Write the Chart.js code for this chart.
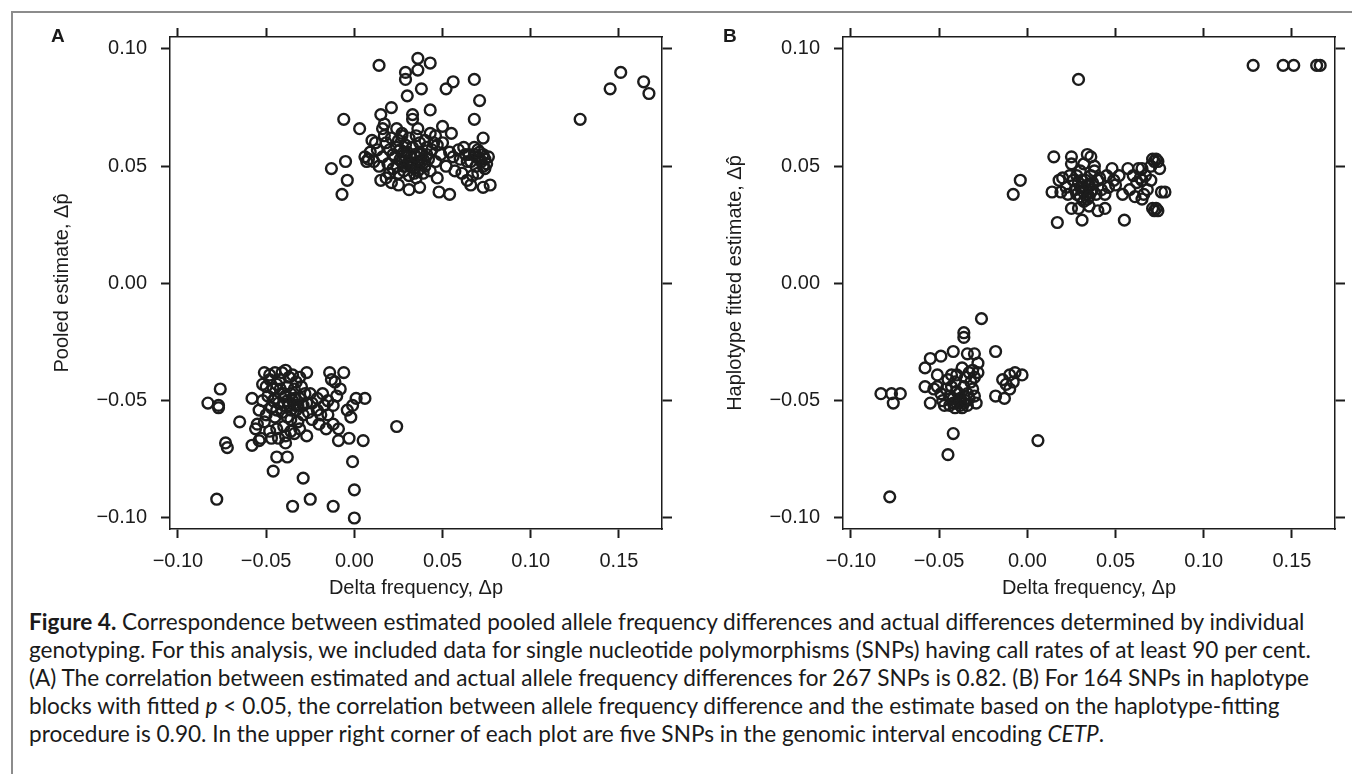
<!DOCTYPE html>
<html>
<head>
<meta charset="utf-8">
<script src="https://cdn.jsdelivr.net/npm/chart.js@4/dist/chart.umd.min.js"></script>
<style>
  html, body { margin: 0; padding: 0; background: #fff; overflow: hidden; }
  body { width: 1352px; height: 774px; position: relative; }
  #frame { position: absolute; left: 11px; top: 11px; width: 1400px; height: 800px;
           border-top: 2px solid #8c8c8c; border-left: 2px solid #8c8c8c; }
  .panel { position: absolute; top: 0; width: 678px; height: 600px; }
  #panelA { left: 0; }
  #panelB { left: 673px; }
  .tag { position: absolute; top: 25px; font: bold 19px "Liberation Sans", Arial, sans-serif; color: #1a1a1a; }
  #caption { position: absolute; left: 29px; top: 608px; font: 22.6px Lato, sans-serif; line-height: 28px;
             color: #1a1a1a; white-space: nowrap; }
  #caption b { font-weight: bold; }
</style>
</head>
<body>
<div id="frame"></div>
<canvas id="panelA" class="panel" width="678" height="600"></canvas>
<canvas id="panelB" class="panel" width="678" height="600"></canvas>
<div class="tag" style="left:51px">A</div>
<div class="tag" style="left:723px">B</div>
<div id="caption">
<b>Figure 4.</b> Correspondence between estimated pooled allele frequency differences and actual differences determined by individual<br>
genotyping. For this analysis, we included data for single nucleotide polymorphisms (SNPs) having call rates of at least 90 per cent.<br>
(A) The correlation between estimated and actual allele frequency differences for 267 SNPs is 0.82. (B) For 164 SNPs in haplotype<br>
blocks with fitted <i>p</i> &lt; 0.05, the correlation between allele frequency difference and the estimate based on the haplotype-fitting<br>
procedure is 0.90. In the upper right corner of each plot are five SNPs in the genomic interval encoding <i>CETP</i>.
</div>
<script>
// tick values shared by both panels
const xTicks = [-0.10, -0.05, 0.00, 0.05, 0.10, 0.15]
const yTicks = [-0.10, -0.05, 0.00, 0.05, 0.10]
const xRange = [-0.1045, 0.1744]
const yRange = [-0.1047, 0.1051]

// panel A: delta frequency (x) vs pooled estimate (y)
const pooledUpper = [
  [0.014,0.093],[0.029,0.090],[0.029,0.087],[0.036,0.096],[0.043,0.094],[0.036,0.091],[0.030,0.080],[0.038,0.083],
  [0.052,0.083],[0.056,0.086],[0.068,0.087],[0.071,0.078],[-0.006,0.070],[0.003,0.066],[0.015,0.072],[0.021,0.075],
  [0.043,0.074],[0.033,0.072],[0.033,0.070],[0.068,0.070],[0.050,0.067],[0.055,0.064],[0.036,0.066],[0.016,0.066],
  [0.024,0.066],[0.027,0.064],[0.031,0.062],[0.046,0.063],[0.017,0.068],[0.010,0.061],[0.073,0.062],[0.047,0.059],
  [-0.013,0.049],[-0.005,0.052],[-0.004,0.044],[-0.007,0.038],[0.006,0.054],[0.007,0.052],[0.008,0.053],
  [0.015,0.044],[0.021,0.043],[0.025,0.042],[0.031,0.040],[0.037,0.041],[0.048,0.039],[0.054,0.038],[0.066,0.042],
  [0.073,0.041],[0.077,0.042],[0.047,0.045],[0.052,0.050],[0.059,0.057],[0.062,0.058],[0.065,0.055],[0.066,0.052],
  [0.068,0.058],[0.069,0.050],[0.070,0.054],[0.071,0.056],[0.072,0.052],[0.073,0.055],[0.074,0.053],[0.075,0.051],
  [0.076,0.054],[0.074,0.049],[0.070,0.047],[0.067,0.046],[0.064,0.052],[0.063,0.055],[0.060,0.053],
  [0.018,0.060],[0.020,0.057],[0.022,0.055],[0.024,0.058],[0.026,0.053],[0.028,0.056],[0.030,0.051],[0.032,0.054],
  [0.034,0.049],[0.036,0.052],[0.038,0.055],[0.040,0.050],[0.042,0.053],[0.044,0.057],[0.046,0.052],[0.025,0.061],
  [0.029,0.059],[0.033,0.058],[0.037,0.060],[0.041,0.058],[0.019,0.051],[0.022,0.049],[0.025,0.047],[0.028,0.048],
  [0.031,0.046],[0.035,0.045],[0.039,0.047],[0.043,0.048],[0.016,0.054],[0.013,0.057],[0.011,0.052],[0.012,0.060],
  [0.017,0.063],[0.021,0.062],[0.027,0.063],[0.035,0.063],[0.040,0.061],[0.043,0.064],[0.049,0.055],[0.054,0.056],
  [0.056,0.054],[0.030,0.056],[0.032,0.050],[0.034,0.055],[0.027,0.052],[0.023,0.054],[0.038,0.052],[0.041,0.055],
  [0.036,0.048],[0.020,0.047],[0.018,0.045],[0.014,0.050],[0.009,0.056],[0.045,0.060],[0.050,0.060],[0.057,0.048],
  [0.061,0.047],[0.064,0.044],[0.026,0.057],[0.029,0.054],[0.031,0.052],[0.033,0.050],[0.035,0.054],[0.037,0.056],
  [0.039,0.053],[0.028,0.050],[0.024,0.050],[0.034,0.047],[0.071,0.053],[0.073,0.050],[0.068,0.055],[0.070,0.057]
]
const pooledLower = [
  [-0.083,-0.051],[-0.076,-0.045],[-0.077,-0.052],[-0.077,-0.053],[-0.073,-0.068],[-0.072,-0.070],[-0.078,-0.092],
  [-0.065,-0.059],[-0.058,-0.049],[-0.058,-0.069],[-0.054,-0.067],[-0.053,-0.066],[-0.051,-0.059],[-0.055,-0.060],
  [-0.051,-0.038],[-0.052,-0.043],[-0.048,-0.039],[-0.045,-0.038],[-0.041,-0.038],[-0.039,-0.037],[-0.035,-0.039],
  [-0.031,-0.040],[-0.027,-0.038],[-0.046,-0.080],[-0.044,-0.074],[-0.038,-0.074],[-0.039,-0.068],[-0.036,-0.063],
  [-0.034,-0.064],[-0.035,-0.095],[-0.029,-0.083],[-0.025,-0.092],[-0.012,-0.095],[0.000,-0.088],[0.000,-0.100],
  [-0.001,-0.076],[0.005,-0.067],[0.024,-0.061],[0.006,-0.049],[0.001,-0.049],[-0.001,-0.052],[-0.004,-0.054],
  [-0.002,-0.057],[-0.006,-0.038],[-0.014,-0.038],[-0.013,-0.041],[-0.011,-0.042],[-0.009,-0.067],[-0.003,-0.066],
  [-0.009,-0.062],[-0.016,-0.062],[-0.019,-0.056],[-0.017,-0.052],[-0.021,-0.054],[-0.024,-0.051],[-0.027,-0.051],
  [-0.029,-0.052],[-0.027,-0.065],[-0.035,-0.050],[-0.037,-0.052],[-0.033,-0.054],[-0.039,-0.048],[-0.041,-0.055],
  [-0.043,-0.051],[-0.045,-0.057],[-0.047,-0.053],[-0.049,-0.048],[-0.050,-0.056],[-0.031,-0.049],[-0.029,-0.056],
  [-0.032,-0.059],[-0.036,-0.058],[-0.040,-0.061],[-0.044,-0.062],[-0.048,-0.063],[-0.038,-0.044],[-0.042,-0.045],
  [-0.046,-0.045],[-0.034,-0.045],[-0.030,-0.044],[-0.025,-0.047],[-0.021,-0.049],[-0.018,-0.047],[-0.015,-0.050],
  [-0.012,-0.052],[-0.010,-0.048],[-0.008,-0.045],[-0.015,-0.056],[-0.012,-0.060],[-0.036,-0.047],[-0.040,-0.052],
  [-0.034,-0.052],[-0.038,-0.057],[-0.042,-0.041],[-0.044,-0.043],[-0.050,-0.044],[-0.052,-0.050],[-0.054,-0.054],
  [-0.056,-0.062],[-0.047,-0.066],[-0.043,-0.066],[-0.039,-0.065],[-0.031,-0.062],[-0.024,-0.058],[-0.020,-0.060],
  [-0.028,-0.047],[-0.026,-0.055],[-0.033,-0.042],[-0.045,-0.049],[-0.048,-0.041],[-0.037,-0.040],
  [-0.036,-0.054],[-0.038,-0.050],[-0.034,-0.049],[-0.040,-0.047],[-0.032,-0.052],[-0.044,-0.054],[-0.046,-0.050]
]
const pooledCetp = [[0.128,0.070],[0.145,0.083],[0.151,0.090],[0.164,0.086],[0.167,0.081]]

// panel B: delta frequency (x) vs haplotype fitted estimate (y)
const haploUpper = [
  [0.029,0.087],[0.015,0.054],[0.025,0.054],[0.025,0.051],[0.034,0.055],[0.036,0.054],[0.032,0.051],[0.048,0.049],
  [0.057,0.049],[0.065,0.049],[0.071,0.053],[0.073,0.053],[0.075,0.049],[-0.004,0.044],[-0.008,0.038],[0.014,0.039],
  [0.017,0.026],[0.031,0.027],[0.055,0.027],[0.025,0.032],[0.029,0.032],[0.040,0.031],[0.044,0.032],[0.071,0.032],
  [0.073,0.032],[0.074,0.031],[0.072,0.031],[0.076,0.039],[0.078,0.039],[0.061,0.037],[0.065,0.036],[0.054,0.038],
  [0.046,0.041],[0.049,0.044],[0.065,0.044],[0.067,0.046],[0.070,0.044],[0.018,0.044],[0.020,0.045],[0.019,0.039],
  [0.023,0.038],[0.034,0.038],[0.039,0.038],[0.040,0.044],[0.041,0.045],[0.027,0.040],[0.029,0.043],[0.031,0.041],
  [0.033,0.044],[0.035,0.042],[0.037,0.040],[0.030,0.037],[0.032,0.035],[0.034,0.036],[0.036,0.046],[0.038,0.048],
  [0.028,0.046],[0.026,0.044],[0.022,0.041],[0.042,0.040],[0.044,0.038],[0.050,0.042],[0.052,0.046],[0.058,0.040],
  [0.062,0.043],[0.068,0.040],[0.066,0.038],[0.035,0.033],[0.038,0.050],[0.030,0.048],[0.024,0.046],[0.060,0.046],
  [0.063,0.049],[0.070,0.050],[0.045,0.046],[0.030,0.041],[0.032,0.039],[0.034,0.042],[0.036,0.039],[0.031,0.044],
  [0.033,0.040],[0.028,0.038],[0.035,0.037],[0.037,0.043],[0.072,0.052],[0.074,0.052],[0.064,0.045]
]
const haploLower = [
  [-0.083,-0.047],[-0.077,-0.047],[-0.076,-0.051],[-0.072,-0.047],[-0.078,-0.091],[-0.058,-0.036],[-0.055,-0.032],
  [-0.049,-0.031],[-0.042,-0.029],[-0.036,-0.021],[-0.036,-0.023],[-0.026,-0.015],[-0.018,-0.029],[-0.034,-0.030],
  [-0.030,-0.030],[-0.028,-0.034],[-0.028,-0.038],[-0.058,-0.044],[-0.053,-0.045],[-0.051,-0.039],[-0.043,-0.039],
  [-0.040,-0.039],[-0.055,-0.051],[-0.047,-0.052],[-0.042,-0.051],[-0.038,-0.052],[-0.034,-0.052],[-0.029,-0.051],
  [-0.018,-0.048],[-0.013,-0.049],[-0.014,-0.041],[-0.010,-0.039],[-0.007,-0.038],[-0.003,-0.039],[-0.012,-0.043],
  [-0.010,-0.045],[-0.008,-0.042],[-0.042,-0.064],[-0.045,-0.073],[0.006,-0.067],[-0.046,-0.045],[-0.044,-0.048],
  [-0.040,-0.046],[-0.038,-0.049],[-0.036,-0.044],[-0.034,-0.047],[-0.032,-0.042],[-0.031,-0.045],[-0.033,-0.038],
  [-0.037,-0.036],[-0.041,-0.042],[-0.045,-0.041],[-0.049,-0.047],[-0.051,-0.044],[-0.039,-0.050],[-0.036,-0.051],
  [-0.041,-0.053],[-0.044,-0.052],[-0.030,-0.048],[-0.035,-0.040],[-0.038,-0.050],[-0.036,-0.048],[-0.040,-0.051],
  [-0.037,-0.053],[-0.039,-0.047],[-0.035,-0.050],[-0.033,-0.049],[-0.042,-0.049],[-0.043,-0.044],[-0.030,-0.040],
  [-0.031,-0.037],[-0.048,-0.050]
]
const haploCetp = [[0.128,0.093],[0.145,0.093],[0.151,0.093],[0.164,0.093],[0.166,0.093]]

const ink = '#1c1c1c'
const axisFont = { family: '"Liberation Sans", Arial, sans-serif', size: 20 }

function fmtTick(v) {
  return (v < -1e-9 ? '\u2212' : '') + Math.abs(v).toFixed(2)
}

function toPoints(list) {
  return list.map((p) => ({ x: p[0], y: p[1] }))
}

function makePanel(canvasId, yTitle, groups) {
  let sideGrid = { drawOnChartArea: false, tickLength: 9, tickWidth: 2, tickColor: ink }
  let sideBorder = { display: true, color: ink, width: 1.5 }
  new Chart(document.getElementById(canvasId), {
    type: 'scatter',
    data: {
      datasets: groups.map((g) => ({
        data: toPoints(g),
        pointStyle: 'circle',
        pointRadius: 5.4,
        pointHoverRadius: 5.4,
        borderWidth: 2.4,
        borderColor: ink,
        backgroundColor: 'rgba(0,0,0,0)',
      })),
    },
    options: {
      responsive: false,
      animation: false,
      layout: { padding: { left: 40, top: 0, right: 0, bottom: 0 } },
      plugins: { legend: { display: false }, tooltip: { enabled: false } },
      scales: {
        x: {
          type: 'linear', position: 'bottom', min: xRange[0], max: xRange[1],
          afterBuildTicks: (s) => { s.ticks = xTicks.map((v) => ({ value: v })) },
          afterFit: (s) => { s.height = 71 },
          ticks: { callback: fmtTick, color: ink, font: axisFont, padding: 11, maxRotation: 0 },
          grid: sideGrid, border: sideBorder,
          title: { display: true, text: 'Delta frequency, \u0394p', color: ink, font: axisFont, padding: { top: 0, bottom: 0 } },
        },
        x2: {
          type: 'linear', position: 'top', min: xRange[0], max: xRange[1],
          afterBuildTicks: (s) => { s.ticks = xTicks.map((v) => ({ value: v })) },
          afterFit: (s) => { s.height = 37 },
          ticks: { display: false },
          grid: sideGrid, border: sideBorder,
        },
        y: {
          type: 'linear', position: 'left', min: yRange[0], max: yRange[1],
          afterBuildTicks: (s) => { s.ticks = yTicks.map((v) => ({ value: v })) },
          afterFit: (s) => { s.width = 130 },
          ticks: { callback: fmtTick, color: ink, font: axisFont, padding: 14 },
          grid: sideGrid, border: sideBorder,
          title: { display: true, text: yTitle, color: ink, font: axisFont, padding: { top: 10, bottom: 0 } },
        },
        y2: {
          type: 'linear', position: 'right', min: yRange[0], max: yRange[1],
          afterBuildTicks: (s) => { s.ticks = yTicks.map((v) => ({ value: v })) },
          afterFit: (s) => { s.width = 16 },
          ticks: { display: false },
          grid: { drawOnChartArea: false, tickLength: 10, tickWidth: 2, tickColor: ink },
          border: sideBorder,
        },
      },
    },
  })
}

makePanel('panelA', 'Pooled estimate, \u0394p\u0302', [pooledUpper, pooledLower, pooledCetp])
makePanel('panelB', 'Haplotype fitted estimate, \u0394p\u0302', [haploUpper, haploLower, haploCetp])
</script>
</body>
</html>
